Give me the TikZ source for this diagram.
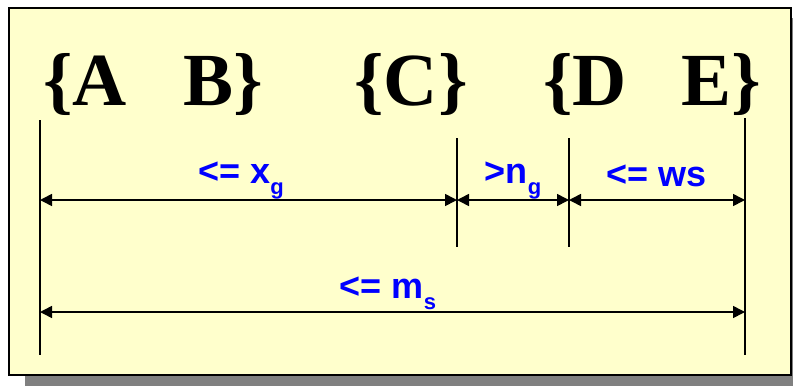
\documentclass[tikz,border=0pt]{standalone}
\usepackage{fontspec}
\newfontfamily\itemfont{Liberation Serif}
\newfontfamily\boundfont{Liberation Sans}
\usetikzlibrary{arrows.meta}
\definecolor{panelYellow}{HTML}{FFFFCC}
\definecolor{shadowGrey}{HTML}{808080}
\definecolor{boundBlue}{HTML}{0000FF}
\newcommand{\lowidx}[1]{\raisebox{-0.32em}{\fontsize{22}{22}\selectfont #1}}
\tikzset{
  % lines and tips sized for a picture measured in points
  every picture/.append style = {line width=1.5pt},
  itemlbl/.style   = {inner sep=0pt, anchor=base,
                      font=\itemfont\bfseries\fontsize{75}{80}\selectfont},
  boundlbl/.style  = {inner sep=0pt, anchor=base, boundBlue,
                      font=\boundfont\bfseries\fontsize{36}{40}\selectfont},
  limitline/.style = {line width=1.5pt, black},
  dimarrow/.style  = {{Triangle[length=12pt,width=12pt]}-{Triangle[length=12pt,width=12pt]},
                      line width=1.6pt, black},
}

\begin{document}
\begin{tikzpicture}[x=1pt,y=-1pt]
  \useasboundingbox (0,0) rectangle (793,386);
  % panel with its drop shadow
  \fill[shadowGrey] (25,18) rectangle (793,386);
  \draw[fill=panelYellow, line width=1.6pt] (9,8) rectangle (791,375);
  % the groups
  \node[itemlbl] (grpA) at (85,105)  {\{A};
  \node[itemlbl] (grpB) at (223,105) {B\}};
  \node[itemlbl] (grpC) at (411,105) {\{C\}};
  \node[itemlbl] (grpD) at (585,105) {\{D};
  \node[itemlbl] (grpE) at (721,105) {E\}};
  % limit lines
  \coordinate (aTop) at (40,120);  \coordinate (aBot) at (40,355);
  \coordinate (cTop) at (457,138); \coordinate (cBot) at (457,247);
  \coordinate (dTop) at (569,138); \coordinate (dBot) at (569,247);
  \coordinate (eTop) at (745,118); \coordinate (eBot) at (745,355);
  \foreach \lim in {a,c,d,e}
    \draw[limitline] (\lim Top) -- (\lim Bot);
  % rows of dimension arrows
  \coordinate (upperRow) at (0,200);
  \coordinate (lowerRow) at (0,312);
  \draw[dimarrow] (aTop |- upperRow) -- (cTop |- upperRow);
  \draw[dimarrow] (cTop |- upperRow) -- (dTop |- upperRow);
  \draw[dimarrow] (dTop |- upperRow) -- (eTop |- upperRow);
  \draw[dimarrow] (aTop |- lowerRow) -- (eTop |- lowerRow);
  % bounds
  \node[boundlbl] (xgLbl) at (241,183) {<= x\lowidx{g}};
  \node[boundlbl] (ngLbl) at (513,183) {>n\lowidx{g}};
  \node[boundlbl] (wsLbl) at (657,186) {<= ws};
  \node[boundlbl] (msLbl) at (388,298) {<= m\lowidx{s}};
\end{tikzpicture}
\end{document}
